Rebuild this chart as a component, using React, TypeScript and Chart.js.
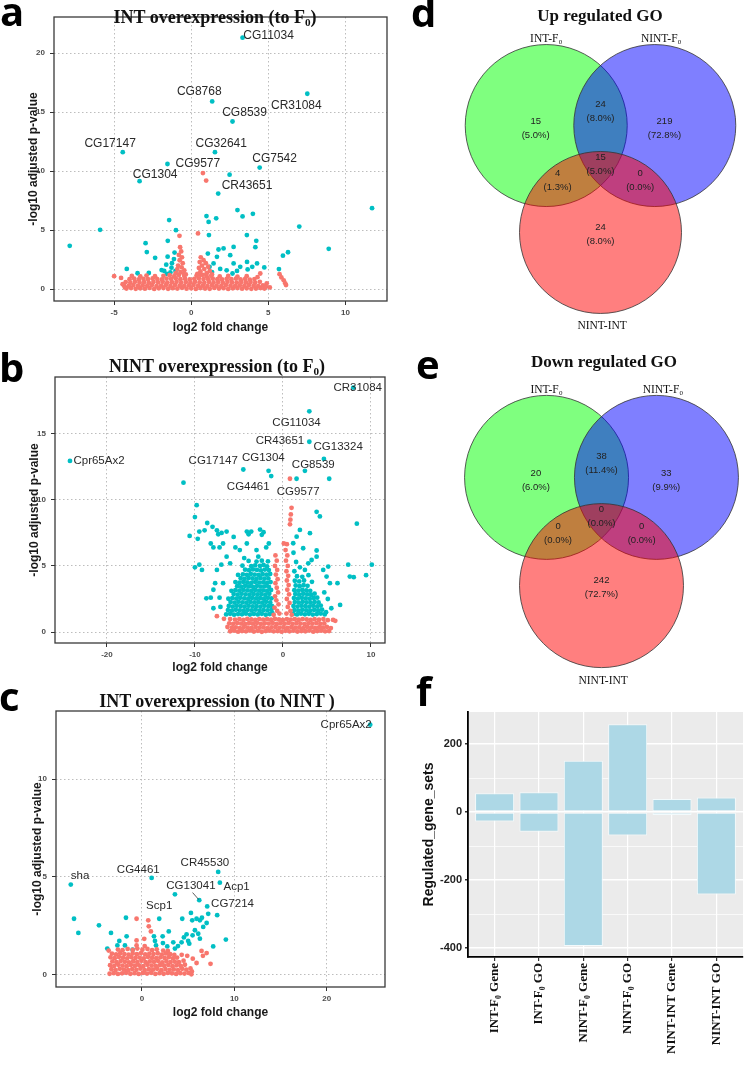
import React, { useEffect, useRef } from "react";
import { Chart, registerables } from "chart.js";

Chart.register(...registerables);

const SANS = '"Liberation Sans", Arial, sans-serif';
const SERIF = '"Liberation Serif", "Times New Roman", serif';
const RED = "#F8766D";
const CYAN = "#00BFC4";

// ---------------- Panel a : INT overexpression (to F0) ----------------
const aXTicks = [-5, 0, 5, 10];
const aYTicks = [0, 5, 10, 15, 20];
const aCyan = [
  3.33,21.3, 1.36,15.9, 7.53,16.55, 2.68,14.2, -4.44,11.6, 1.54,11.6, -1.54,10.6, 4.44,10.3, -3.35,9.15,
  2.49,9.7, 1.75,8.1, 11.73,6.86, 7.01,5.3, 8.92,3.42, -7.88,3.67, -5.91,5.03, -1.43,5.85, -0.99,5.0,
  0.99,6.19, 1.13,5.7, 1.62,6.0, 3.0,6.7, 3.33,6.16, 4.0,6.38, 1.15,4.58, 3.61,4.58, 4.22,4.1, 4.16,3.56,
  -1.52,4.1, -2.96,3.9, -2.88,3.14, -2.34,2.66, -1.08,3.1, -1.53,2.75, -1.12,2.55, -1.25,2.2, -1.62,2.08,
  -1.28,1.82, -1.75,1.55, -1.35,1.42, -1.58,1.3, -1.02,1.55, -1.92,1.62, -4.18,1.72, -2.75,1.37, -3.48,1.35,
  1.77,3.36, 2.1,3.45, 2.53,2.88, 2.75,3.58, 1.67,2.74, 1.45,2.18, 1.19,1.89, 1.88,1.72, 2.75,2.18, 2.97,1.55,
  3.18,1.89, 3.62,2.31, 3.66,1.67, 3.96,1.89, 4.27,2.18, 4.74,1.84, 1.08,3.02, 2.68,1.33, 5.69,1.7, 5.95,2.84,
  6.28,3.13, 1.35,1.45, 2.3,1.6
];
const aRed = [
  -4.2,0.05, -3.9,0.1, -3.6,0.03, -3.3,0.08, -3.0,0.04, -2.7,0.11, -2.4,0.02, -2.1,0.07, -1.8,0.1, -1.5,0.03,
  -1.2,0.09, -0.9,0.05, -0.6,0.12, -0.3,0.04, 0.0,0.08, 0.3,0.02, 0.6,0.1, 0.9,0.06, 1.2,0.03, 1.5,0.11,
  1.8,0.05, 2.1,0.09, 2.4,0.02, 2.7,0.07, 3.0,0.1, 3.3,0.04, 3.6,0.08, 3.9,0.03, 4.2,0.06, 4.5,0.1, 4.75,0.05,
  -4.35,0.32, -4.05,0.28, -3.75,0.35, -3.45,0.27, -3.15,0.33, -2.85,0.3, -2.55,0.36, -2.25,0.26, -1.95,0.31,
  -1.65,0.34, -1.35,0.28, -1.05,0.35, -0.75,0.3, -0.45,0.27, -0.15,0.33, 0.15,0.36, 0.45,0.29, 0.75,0.31,
  1.05,0.26, 1.35,0.34, 1.65,0.3, 1.95,0.27, 2.25,0.35, 2.55,0.31, 2.85,0.28, 3.15,0.33, 3.45,0.29, 3.75,0.36,
  4.05,0.3, 4.35,0.26, 4.65,0.33,
  -4.25,0.6, -3.95,0.55, -3.65,0.62, -3.35,0.57, -3.05,0.6, -2.75,0.54, -2.45,0.61, -2.15,0.58, -1.85,0.63,
  -1.55,0.56, -1.25,0.59, -0.95,0.62, -0.65,0.55, -0.35,0.6, -0.05,0.57, 0.25,0.63, 0.55,0.58, 0.85,0.54,
  1.15,0.61, 1.45,0.57, 1.75,0.6, 2.05,0.55, 2.35,0.62, 2.65,0.58, 2.95,0.56, 3.25,0.61, 3.55,0.57, 3.85,0.6,
  4.15,0.55, 4.45,0.62,
  -4.0,0.85, -3.7,0.9, -3.4,0.82, -3.1,0.88, -2.8,0.84, -2.5,0.91, -2.2,0.86, -1.9,0.83, -1.6,0.9, -1.3,0.87,
  -1.0,0.92, -0.7,0.85, -0.4,0.89, -0.1,0.83, 0.2,0.88, 0.5,0.92, 0.8,0.86, 1.1,0.84, 1.4,0.9, 1.7,0.85,
  2.0,0.82, 2.3,0.88, 2.6,0.84, 2.9,0.9, 3.2,0.83, 3.5,0.87, 3.8,0.81, 4.1,0.86,
  -4.55,0.95, -3.85,1.12, -3.3,1.08, -2.9,1.15, -2.35,1.1, -1.8,1.13, -1.4,1.18, -1.1,1.1, -0.8,1.2, -0.45,1.12,
  0.35,1.15, 0.6,1.22, 1.0,1.1, 1.3,1.14, 1.85,1.08, 2.4,1.12, 3.0,1.06, 3.6,1.1, 4.3,1.02,
  -5.0,1.1, -4.45,0.42, -4.3,0.15,
  -0.72,3.55, -0.65,3.2, -0.8,2.9, -0.6,2.7, -0.75,2.45, -0.55,2.2, -0.85,2.0, -0.62,1.85, -0.45,1.6, -0.9,1.7,
  -0.7,1.45, -0.5,1.32, -1.0,1.35, -0.35,1.25, -0.76,4.52,
  0.62,2.7, 0.8,2.45, 0.55,2.3, 0.95,2.2, 0.7,2.0, 1.1,1.9, 0.5,1.8, 0.85,1.7, 1.2,1.55, 0.6,1.5, 1.0,1.35,
  0.4,1.3, 1.35,1.25, 0.75,1.22, 0.44,4.72, 0.76,9.83, 0.97,9.2,
  4.48,1.33, 4.9,0.5, 4.85,0.2, 5.73,1.27, 5.85,1.0, 6.0,0.75, 6.1,0.5, 6.15,0.35, 5.1,0.15
];
const aLabels = ["CG11034", "CG8768", "CR31084", "CG8539", "CG17147", "CG32641", "CG9577", "CG7542", "CG1304", "CR43651"];
const aLabelX = [5.02, 0.52, 6.82, 3.46, -5.26, 1.95, 0.43, 5.41, -2.34, 3.62];
const aLabelY = [21.47, 16.7, 15.5, 14.97, 12.35, 12.35, 10.6, 11.07, 9.66, 8.75];

// ---------------- Panel b : NINT overexpression (to F0) ----------------
const bXTicks = [-20, -10, 0, 10];
const bYTicks = [0, 5, 10, 15];
const bCyan = [
  -24.2,12.95, 8.0,18.5, 3.0,16.7, 3.0,14.4, 4.66,13.1, 2.5,12.2, 5.26,11.6, 1.55,11.6, -4.5,12.3, -1.63,12.2,
  -1.33,11.8, -11.3,11.3, -9.8,9.6, -10.0,8.7, 3.83,9.1, 4.2,8.75, 8.4,8.2, 10.1,5.1, 7.42,5.1, 7.6,4.2,
  8.05,4.15, 9.45,4.3, 6.5,2.05, -10.6,7.27,
  -9.5,7.6, -9.68,7.05, -10.0,4.9, -9.5,5.1, -9.2,4.7, -8.7,2.55, -8.2,2.6, -8.6,8.25, -8.0,7.96, -8.9,7.7,
  -7.5,7.7, -7.35,7.4, -6.97,7.5, -6.4,7.6, -6.8,6.7, -7.2,6.4, -7.9,6.4, -8.2,6.7, -4.1,7.6, -3.9,7.4,
  -3.6,7.6, -2.6,7.75, -2.2,7.55, -2.4,7.36, -4.1,6.7, -5.6,7.2, -5.4,6.4, -4.9,6.2, -3.0,6.2, -1.9,6.4,
  -1.6,6.7, -6.4,5.7, -6.0,5.2, -7.0,5.1, -7.5,4.7, -7.7,3.7, -7.9,3.2, -6.8,3.7, -7.2,2.6, -7.1,1.9, -7.9,1.8,
  -6.45,1.33, -6.0,1.38, -5.55,1.31, -5.1,1.36, -4.65,1.34, -4.2,1.39, -3.75,1.32, -3.3,1.37, -2.85,1.33,
  -2.4,1.38, -1.95,1.31, -1.5,1.36, -1.2,1.42,
  -6.25,1.66, -5.8,1.62, -5.35,1.68, -4.9,1.64, -4.45,1.61, -4.0,1.67, -3.55,1.63, -3.1,1.69, -2.65,1.62,
  -2.2,1.66, -1.75,1.64, -1.3,1.68,
  -6.15,1.97, -5.7,1.93, -5.25,1.99, -4.8,1.95, -4.35,1.92, -3.9,1.98, -3.45,1.94, -3.0,1.96, -2.55,1.92,
  -2.1,1.99, -1.65,1.95, -1.25,1.97,
  -5.95,2.27, -5.5,2.23, -5.05,2.29, -4.6,2.25, -4.15,2.22, -3.7,2.28, -3.25,2.24, -2.8,2.26, -2.35,2.22,
  -1.9,2.29, -1.45,2.25,
  -6.2,2.52, -5.75,2.57, -5.3,2.53, -4.85,2.59, -4.4,2.55, -3.95,2.52, -3.5,2.58, -3.05,2.54, -2.6,2.56,
  -2.15,2.52, -1.7,2.59, -1.3,2.55,
  -5.6,2.87, -5.15,2.83, -4.7,2.89, -4.25,2.85, -3.8,2.82, -3.35,2.88, -2.9,2.84, -2.45,2.86, -2.0,2.82, -1.55,2.89,
  -5.85,3.12, -5.4,3.17, -4.95,3.13, -4.5,3.19, -4.05,3.15, -3.6,3.12, -3.15,3.18, -2.7,3.14, -2.25,3.16,
  -1.8,3.12, -1.35,3.18,
  -5.2,3.47, -4.75,3.43, -4.3,3.49, -3.85,3.45, -3.4,3.42, -2.95,3.48, -2.5,3.44, -2.05,3.46, -1.6,3.42,
  -5.4,3.78, -4.95,3.73, -4.5,3.79, -4.05,3.75, -3.6,3.72, -3.15,3.78, -2.7,3.74, -2.25,3.76, -1.8,3.72, -1.4,3.78,
  -4.8,4.07, -4.35,4.03, -3.9,4.09, -3.45,4.05, -3.0,4.02, -2.55,4.08, -2.1,4.04, -1.65,4.06,
  -5.1,4.32, -4.55,4.37, -4.1,4.33, -3.65,4.39, -3.2,4.35, -2.75,4.32, -2.3,4.38, -1.85,4.34, -1.45,4.4,
  -4.3,4.72, -3.85,4.68, -3.4,4.74, -2.95,4.7, -2.5,4.66, -2.05,4.73, -1.6,4.69,
  -4.6,5.02, -3.6,4.98, -3.15,5.05, -2.6,5.0, -2.2,5.08, -1.8,4.97,
  -3.9,5.38, -3.0,5.33, -2.4,5.4, -1.7,5.35, -4.4,5.6, -2.8,5.7,
  1.15,1.37, 1.6,1.33, 2.05,1.39, 2.5,1.34, 2.95,1.38, 3.4,1.32, 3.85,1.36, 4.3,1.4, 4.75,1.33,
  1.3,1.66, 1.75,1.62, 2.2,1.68, 2.65,1.64, 3.1,1.61, 3.55,1.67, 4.0,1.63, 4.45,1.69,
  1.2,1.97, 1.65,1.93, 2.1,1.99, 2.55,1.95, 3.0,1.92, 3.45,1.98, 3.9,1.94, 4.3,2.0,
  1.35,2.27, 1.8,2.23, 2.25,2.29, 2.7,2.25, 3.15,2.22, 3.6,2.28, 4.05,2.24,
  1.25,2.57, 1.7,2.53, 2.15,2.59, 2.6,2.55, 3.05,2.52, 3.5,2.58, 3.9,2.6,
  1.4,2.87, 1.85,2.83, 2.3,2.89, 2.75,2.85, 3.2,2.82, 3.6,2.9,
  1.3,3.17, 1.75,3.13, 2.2,3.19, 2.65,3.15, 3.1,3.12,
  1.45,3.52, 1.9,3.47, 2.35,3.54, 2.8,3.5,
  1.35,3.88, 1.85,3.83, 2.4,3.9, 3.3,3.8,
  1.6,4.22, 2.2,4.18, 2.9,4.3, 1.3,4.6, 2.5,4.7,
  1.17,6.72, 1.93,7.73, 1.56,7.22, 3.07,7.48, 2.3,6.34, 3.83,6.17, 3.26,5.45, 3.83,5.7, 2.88,5.2, 4.58,4.7,
  5.15,4.95, 4.96,4.2, 5.34,3.7, 6.2,3.7, 1.93,4.9, 1.2,6.0, 1.5,5.3, 4.7,3.0, 5.1,2.5, 5.5,1.8, 4.9,1.5
];
const bRed = [
  -6.0,0.06, -5.55,0.1, -5.1,0.03, -4.65,0.08, -4.2,0.05, -3.75,0.11, -3.3,0.04, -2.85,0.09, -2.4,0.02,
  -1.95,0.07, -1.5,0.1, -1.05,0.05, -0.6,0.08, -0.15,0.03, 0.3,0.09, 0.75,0.05, 1.2,0.1, 1.65,0.04, 2.1,0.08,
  2.55,0.06, 3.0,0.11, 3.45,0.03, 3.9,0.07, 4.35,0.1, 4.8,0.05, 5.25,0.08,
  -6.3,0.38, -5.8,0.33, -5.35,0.36, -4.9,0.3, -4.45,0.37, -4.0,0.34, -3.55,0.31, -3.1,0.38, -2.65,0.33,
  -2.2,0.36, -1.75,0.3, -1.3,0.35, -0.85,0.38, -0.4,0.32, 0.05,0.36, 0.5,0.31, 0.95,0.37, 1.4,0.33, 1.85,0.35,
  2.3,0.3, 2.75,0.38, 3.2,0.34, 3.65,0.31, 4.1,0.36, 4.55,0.33, 5.0,0.38, 5.45,0.3,
  -6.1,0.66, -5.65,0.62, -5.2,0.68, -4.75,0.64, -4.3,0.61, -3.85,0.67, -3.4,0.63, -2.95,0.69, -2.5,0.62,
  -2.05,0.66, -1.6,0.64, -1.15,0.68, -0.7,0.61, -0.25,0.66, 0.2,0.63, 0.65,0.69, 1.1,0.62, 1.55,0.67, 2.0,0.64,
  2.45,0.6, 2.9,0.66, 3.35,0.63, 3.8,0.68, 4.25,0.62, 4.7,0.65,
  -7.5,1.2, -6.7,1.0, -6.0,0.98, -5.45,0.94, -4.95,0.97, -4.5,0.92, -4.05,0.99, -3.6,0.95, -3.15,0.92,
  -2.7,0.98, -2.25,0.94, -1.8,0.97, -1.35,0.93, -0.9,0.99, -0.45,0.95, 0.0,0.92, 0.45,0.98, 0.9,0.94,
  1.35,0.97, 1.8,0.93, 2.25,0.98, 2.7,0.95, 3.15,0.92, 3.6,0.97, 4.1,0.93, 4.6,0.98, 5.1,0.9, 5.7,0.92, 5.95,0.85,
  -0.85,5.8, -0.7,5.4, -0.9,5.0, -0.65,4.7, -0.8,4.35, -0.6,4.0, -0.85,3.7, -0.7,3.35, -0.55,3.0, -0.9,2.7,
  -0.75,2.4, -0.5,2.1, -0.95,1.85, -0.65,1.6, -0.4,1.4, -1.05,1.3,
  0.1,6.7, 0.45,6.65, 0.3,6.2, 0.5,5.8, 0.35,5.4, 0.55,5.0, 0.4,4.6, 0.6,4.25, 0.45,3.9, 0.65,3.55, 0.5,3.2,
  0.7,2.85, 0.45,2.5, 0.75,2.2, 0.55,1.9, 0.85,1.6, 0.4,1.4, 1.0,1.3,
  0.8,11.6, 0.98,9.4, 0.9,8.9, 0.85,8.5, 0.8,8.15
];
const bLabels = ["Cpr65Ax2", "CR31084", "CG11034", "CR43651", "CG13324", "CG17147", "CG1304", "CG8539", "CG4461", "CG9577"];
const bLabelX = [-20.9, 8.5, 1.55, -0.34, 6.28, -7.92, -2.23, 3.45, -3.94, 1.74];
const bLabelY = [12.95, 18.5, 15.8, 14.47, 14.04, 12.98, 13.16, 12.65, 10.96, 10.63];

// ---------------- Panel c : INT overexpression (to NINT) ----------------
const cXTicks = [0, 10, 20];
const cYTicks = [0, 5, 10];
const cCyan = [
  24.7,12.8, -7.7,4.6, 1.05,4.94, 8.25,5.25, 8.43,4.7, 3.57,4.1, 6.2,3.8, 7.06,3.48, 8.14,3.03,
  -7.35,2.85, -6.88,2.12, -4.65,2.51, -3.35,2.12, -1.73,2.9, 1.87,2.85, 4.36,2.85, 5.3,3.15,
  -3.75,1.32, -2.45,1.71, -1.66,1.95, -2.66,1.48, -1.84,1.48, -1.01,1.26,
  1.3,1.95, 2.24,1.95, 1.41,1.71, 1.52,1.48, 2.27,1.6, 2.74,1.43, 3.39,1.64, 3.57,1.32, 4.29,1.64, 4.54,1.89,
  4.83,2.05, 5.0,1.71, 5.44,2.77, 5.91,2.85, 6.27,2.77, 6.49,2.9, 5.73,2.26, 6.09,2.08, 6.63,2.43, 7.0,2.63,
  5.48,2.0, 5.12,1.57, 6.27,1.83, 7.17,3.1, 7.71,1.43, 9.08,1.78, 3.9,1.45, 2.9,2.2
];
const cRed = [
  -3.5,0.03, -3.05,0.06, -2.6,0.02, -2.15,0.05, -1.7,0.08, -1.25,0.03, -0.8,0.06, -0.35,0.02, 0.1,0.07,
  0.55,0.04, 1.0,0.08, 1.45,0.02, 1.9,0.06, 2.35,0.03, 2.8,0.07, 3.25,0.05, 3.7,0.02, 4.15,0.06, 4.6,0.04,
  5.05,0.07, 5.35,0.0,
  -3.3,0.26, -2.85,0.22, -2.4,0.28, -1.95,0.24, -1.5,0.21, -1.05,0.27, -0.6,0.23, -0.15,0.29, 0.3,0.22,
  0.75,0.26, 1.2,0.24, 1.65,0.28, 2.1,0.21, 2.55,0.27, 3.0,0.23, 3.45,0.25, 3.9,0.22, 4.35,0.28, 4.8,0.24, 5.25,0.3,
  -3.45,0.47, -3.0,0.43, -2.55,0.49, -2.1,0.45, -1.65,0.42, -1.2,0.48, -0.75,0.44, -0.3,0.46, 0.15,0.42,
  0.6,0.49, 1.05,0.45, 1.5,0.43, 1.95,0.47, 2.4,0.44, 2.85,0.48, 3.3,0.42, 3.75,0.46, 4.2,0.43, 4.65,0.49,
  -3.2,0.66, -2.75,0.62, -2.3,0.68, -1.85,0.64, -1.4,0.61, -0.95,0.67, -0.5,0.63, -0.05,0.69, 0.4,0.62,
  0.85,0.66, 1.3,0.64, 1.75,0.68, 2.2,0.61, 2.65,0.67, 3.1,0.63, 3.55,0.65, 4.0,0.62, 4.5,0.7,
  -3.4,0.87, -2.95,0.83, -2.5,0.89, -2.05,0.85, -1.6,0.82, -1.15,0.88, -0.7,0.84, -0.25,0.86, 0.2,0.82,
  0.65,0.89, 1.1,0.85, 1.55,0.83, 2.0,0.87, 2.45,0.84, 2.9,0.88, 3.35,0.82, 3.8,0.86,
  -3.25,1.06, -2.8,1.02, -2.35,1.08, -1.9,1.04, -1.45,1.01, -1.0,1.07, -0.55,1.03, -0.1,1.09, 0.35,1.02,
  0.8,1.06, 1.25,1.04, 1.7,1.08, 2.15,1.01, 2.6,1.07, 3.05,1.03, 3.5,1.0,
  -3.6,1.22, -2.6,1.27, -2.1,1.24, -1.55,1.3, -1.0,1.25, -0.5,1.32, 0.05,1.26, 0.6,1.3, 1.1,1.24, 1.6,1.28,
  2.3,1.22, 2.8,1.2,
  -0.58,2.85, 0.68,2.77, 0.74,2.46, 0.97,2.2, -0.58,1.74, 0.25,1.82, -0.58,1.48, 0.3,1.45, 6.45,1.2, 7.0,1.09,
  7.42,0.54, 5.91,0.58, 5.4,0.15, 4.9,0.95, 5.5,0.8, 6.6,0.95, 4.3,1.0
];
const cLabels = ["Cpr65Ax2", "sha", "CG4461", "CR45530", "CG13041", "Acp1", "Scp1", "CG7214"];
const cLabelX = [22.1, -6.7, -0.4, 6.81, 5.3, 10.24, 1.87, 9.8];
const cLabelY = [12.8, 5.03, 5.37, 5.71, 4.53, 4.51, 3.49, 3.59];
const cLeader = [5.48, 4.19, 6.15, 3.83];

// ---------------- Panels d / e : Venn diagrams ----------------
const vennSets = ["INT-F₀", "NINT-F₀", "NINT-INT"];
const vennFill = ["rgba(0,255,0,0.5)", "rgba(0,0,255,0.5)", "rgba(255,0,0,0.5)"];
const vennCX = [-0.67, 0.67, 0];
const vennCY = [0.66, 0.66, -0.66];
const vennR = 1;
const vennSetLabelX = [-0.67, 0.75, 0.02];
const vennSetLabelY = [1.73, 1.73, -1.82];
const vennRegionX = [-0.8, 0, 0.79, 0, -0.53, 0.49, 0];
const vennRegionY = [0.62, 0.83, 0.62, 0.18, -0.02, -0.02, -0.68];
const dCounts = ["15", "24", "219", "15", "4", "0", "24"];
const dPercents = ["(5.0%)", "(8.0%)", "(72.8%)", "(5.0%)", "(1.3%)", "(0.0%)", "(8.0%)"];
const eCounts = ["20", "38", "33", "0", "0", "0", "242"];
const ePercents = ["(6.0%)", "(11.4%)", "(9.9%)", "(0.0%)", "(0.0%)", "(0.0%)", "(72.7%)"];

// ---------------- Panel f : bar chart ----------------
const fCategories = ["INT-F₀ Gene", "INT-F₀ GO", "NINT-F₀ Gene", "NINT-F₀ GO", "NINT-INT Gene", "NINT-INT GO"];
const fUp = [55, 58, 151, 258, 38, 43];
const fDown = [-28, -58, -394, -69, -9, -242];
const fYTicks = [-400, -300, -200, -100, 0, 100, 200];
const fYLabels = ["-400", "", "-200", "", "0", "", "200"];

function toPts(flat: number[]) {
  const out: { x: number; y: number }[] = [];
  for (let i = 0; i < flat.length; i += 2) out.push({ x: flat[i], y: flat[i + 1] });
  return out;
}

type VProps = {
  left: number; top: number; width: number; height: number;
  padTop: number; padRight: number; yAxisW: number; xAxisH: number; yTitlePad: number;
  xMin: number; xMax: number; yMin: number; yMax: number;
  xTicks: number[]; yTicks: number[];
  cyan: number[]; red: number[];
  labels: string[]; labelX: number[]; labelY: number[]; labelSize: number;
  leader?: number[];
};

function Volcano(p: VProps) {
  const ref = useRef<HTMLCanvasElement>(null);
  useEffect(() => {
    const deco = {
      id: "deco",
      afterDatasetsDraw(chart: any) {
        const { ctx, chartArea: a, scales } = chart;
        const xs = scales.x, ys = scales.y;
        ctx.save();
        ctx.strokeStyle = "#3a3a3a";
        ctx.lineWidth = 1.3;
        ctx.strokeRect(a.left, a.top, a.right - a.left, a.bottom - a.top);
        ctx.fillStyle = "#2a2a2a";
        ctx.font = `${p.labelSize}px ${SANS}`;
        ctx.textAlign = "center";
        ctx.textBaseline = "middle";
        p.labels.forEach((t, i) => ctx.fillText(t, xs.getPixelForValue(p.labelX[i]), ys.getPixelForValue(p.labelY[i])));
        if (p.leader) {
          ctx.strokeStyle = "#333";
          ctx.lineWidth = 0.8;
          ctx.beginPath();
          ctx.moveTo(xs.getPixelForValue(p.leader[0]), ys.getPixelForValue(p.leader[1]));
          ctx.lineTo(xs.getPixelForValue(p.leader[2]), ys.getPixelForValue(p.leader[3]));
          ctx.stroke();
        }
        ctx.restore();
      },
    };
    const tickFont = { family: SANS, size: 8, weight: "bold" as const };
    const titleFont = { family: SANS, size: 12, weight: "bold" as const };
    const chart = new Chart(ref.current!, {
      type: "scatter",
      data: {
        datasets: [
          { data: toPts(p.cyan), backgroundColor: CYAN, pointRadius: 2.4, pointBorderWidth: 0, borderWidth: 0, order: 2 },
          { data: toPts(p.red), backgroundColor: RED, pointRadius: 2.4, pointBorderWidth: 0, borderWidth: 0, order: 1 },
        ],
      },
      options: {
        animation: false,
        responsive: false,
        events: [],
        layout: { padding: { top: p.padTop, right: p.padRight, left: 0, bottom: 0 } },
        plugins: { legend: { display: false }, tooltip: { enabled: false } },
        scales: {
          x: {
            type: "linear", min: p.xMin, max: p.xMax,
            afterBuildTicks: (s: any) => { s.ticks = p.xTicks.map((v) => ({ value: v })); },
            afterFit: (s: any) => { s.height = p.xAxisH; },
            ticks: { font: tickFont, color: "#4d4d4d", padding: 3, maxRotation: 0, autoSkip: false },
            grid: { color: "#bdbdbd", lineWidth: 1, tickLength: 4, tickColor: "#333" },
            border: { display: false, dash: [1.5, 2.5] },
            title: { display: true, text: "log2 fold change", font: titleFont, color: "#1a1a1a", padding: { top: 0, bottom: 10 } },
          },
          y: {
            type: "linear", min: p.yMin, max: p.yMax,
            afterBuildTicks: (s: any) => { s.ticks = p.yTicks.map((v) => ({ value: v })); },
            afterFit: (s: any) => { s.width = p.yAxisW; },
            ticks: { font: tickFont, color: "#4d4d4d", padding: 5, autoSkip: false },
            grid: { color: "#bdbdbd", lineWidth: 1, tickLength: 4, tickColor: "#333" },
            border: { display: false, dash: [1.5, 2.5] },
            title: { display: true, text: "-log10 adjusted p-value", font: titleFont, color: "#1a1a1a", padding: { top: p.yTitlePad, bottom: 0 } },
          },
        },
      } as any,
      plugins: [deco],
    });
    return () => chart.destroy();
  }, []);
  return (
    <canvas ref={ref} width={p.width} height={p.height}
      style={{ position: "absolute", left: p.left, top: p.top, width: p.width, height: p.height }} />
  );
}

type VennProps = { left: number; top: number; width: number; height: number; ox: number; oy: number; ppu: number; counts: string[]; pcts: string[] };

function Venn(p: VennProps) {
  const ref = useRef<HTMLCanvasElement>(null);
  useEffect(() => {
    const radiusPx = (c: any) => {
      const s = c.chart.scales.x;
      return Math.abs(s.getPixelForValue(vennR) - s.getPixelForValue(0));
    };
    const text = {
      id: "vennText",
      afterDatasetsDraw(chart: any) {
        const { ctx, scales } = chart;
        const xs = scales.x, ys = scales.y;
        ctx.save();
        ctx.textAlign = "center";
        ctx.textBaseline = "middle";
        ctx.fillStyle = "#222";
        ctx.font = `9.5px ${SANS}`;
        p.counts.forEach((c, i) => {
          const px = xs.getPixelForValue(vennRegionX[i]);
          const py = ys.getPixelForValue(vennRegionY[i]);
          ctx.fillText(c, px, py - 7);
          ctx.fillText(p.pcts[i], px, py + 7);
        });
        ctx.font = `11.5px ${SERIF}`;
        ctx.fillStyle = "#111";
        vennSets.forEach((s, i) => ctx.fillText(s, xs.getPixelForValue(vennSetLabelX[i]), ys.getPixelForValue(vennSetLabelY[i])));
        ctx.restore();
      },
    };
    const dx = p.ox - p.left, dy = p.oy - p.top;
    const chart = new Chart(ref.current!, {
      type: "scatter",
      data: {
        datasets: vennFill.map((col, i) => ({
          data: [{ x: vennCX[i], y: vennCY[i] }],
          backgroundColor: col,
          borderColor: "#333",
          borderWidth: 0.8,
          pointBorderWidth: 0.8,
          pointRadius: radiusPx,
          order: 3 - i,
          clip: false,
        })),
      },
      options: {
        animation: false, responsive: false, events: [],
        layout: { padding: 0 },
        plugins: { legend: { display: false }, tooltip: { enabled: false } },
        scales: {
          x: { type: "linear", display: false, min: -dx / p.ppu, max: (p.width - dx) / p.ppu },
          y: { type: "linear", display: false, min: -(p.height - dy) / p.ppu, max: dy / p.ppu },
        },
      } as any,
      plugins: [text],
    });
    return () => chart.destroy();
  }, []);
  return (
    <canvas ref={ref} width={p.width} height={p.height}
      style={{ position: "absolute", left: p.left, top: p.top, width: p.width, height: p.height }} />
  );
}

function Bars() {
  const ref = useRef<HTMLCanvasElement>(null);
  useEffect(() => {
    const bg = {
      id: "panelBg",
      beforeDraw(chart: any) {
        const { ctx, chartArea: a } = chart;
        ctx.save();
        ctx.fillStyle = "#EBEBEB";
        ctx.fillRect(a.left, a.top, a.right - a.left, a.bottom - a.top);
        ctx.restore();
      },
    };
    const barStyle = { backgroundColor: "#ADD8E6", borderColor: "#f2fafc", borderWidth: 1, borderSkipped: false, barPercentage: 0.88, categoryPercentage: 1 };
    const chart = new Chart(ref.current!, {
      type: "bar",
      data: {
        datasets: [
          { data: fUp.map((v, i) => ({ x: i + 1, y: v })), ...barStyle },
          { data: fDown.map((v, i) => ({ x: i + 1, y: v })), ...barStyle },
        ],
      },
      options: {
        animation: false, responsive: false, events: [],
        layout: { padding: { top: 22, right: 2, left: 0, bottom: 0 } },
        plugins: { legend: { display: false }, tooltip: { enabled: false } },
        scales: {
          x: {
            type: "linear", min: 0.4, max: 6.6, stacked: true, offset: false,
            afterBuildTicks: (s: any) => { s.ticks = fCategories.map((_, i) => ({ value: i + 1 })); },
            afterFit: (s: any) => { s.height = 109; },
            ticks: {
              autoSkip: false, minRotation: 90, maxRotation: 90, padding: 2, color: "#111",
              font: { family: SERIF, size: 13, weight: "bold" },
              callback: (v: any) => fCategories[Math.round(Number(v)) - 1],
            },
            grid: { offset: false, color: "#ffffff", lineWidth: 1.2, tickLength: 4, tickColor: "#333" },
            border: { display: true, color: "#000", width: 1.8 },
          },
          y: {
            type: "linear", min: -426, max: 294, stacked: true,
            afterBuildTicks: (s: any) => { s.ticks = fYTicks.map((v) => ({ value: v })); },
            afterFit: (s: any) => { s.width = 88; },
            ticks: {
              padding: 3, color: "#222", autoSkip: false,
              font: { family: SANS, size: 11, weight: "bold" },
              callback: (_v: any, i: number) => fYLabels[i],
            },
            grid: {
              color: "#ffffff",
              lineWidth: (c: any) => (fYLabels[c.index] ? 1.4 : 0.7),
              tickLength: 3,
              tickColor: (c: any) => (fYLabels[c.index] ? "#333" : "rgba(0,0,0,0)"),
            },
            border: { display: true, color: "#000", width: 1.8 },
            title: { display: true, text: "Regulated_gene_sets", color: "#111", font: { family: SANS, size: 14, weight: "bold" }, padding: { top: 41, bottom: 0 } },
          },
        },
      } as any,
      plugins: [bg],
    });
    return () => chart.destroy();
  }, []);
  return (
    <canvas ref={ref} width={365} height={376}
      style={{ position: "absolute", left: 380, top: 690, width: 365, height: 376 }} />
  );
}

function Title({ cx, base, size, children }: { cx: number; base: number; size: number; children: any }) {
  return (
    <div style={{
      position: "absolute", left: cx, top: base - 0.8375 * size, transform: "translateX(-50%)",
      whiteSpace: "nowrap", fontFamily: SERIF, fontWeight: "bold", fontSize: size, lineHeight: 1, color: "#111",
    }}>{children}</div>
  );
}

function Letter({ x, base, ch }: { x: number; base: number; ch: string }) {
  const size = 40;
  return (
    <div style={{
      position: "absolute", left: x - 2, top: base - 0.888 * size, fontFamily: '"Open Sans", sans-serif',
      fontWeight: 700, fontSize: size, lineHeight: 1, color: "#000",
    }}>{ch}</div>
  );
}

const Sub = ({ t }: { t: string }) => (
  <sub style={{ fontSize: "0.62em", verticalAlign: "-0.28em", lineHeight: 0 }}>{t}</sub>
);

export default function App() {
  return (
    <div style={{ position: "absolute", left: 0, top: 0, width: 745, height: 1066, background: "#fff", overflow: "hidden" }}>
      <Volcano left={0} top={0} width={392} height={345} padTop={17} padRight={5} yAxisW={54} xAxisH={44} yTitlePad={26.5}
        xMin={-8.9} xMax={12.7} yMin={-1.0} yMax={23.05} xTicks={aXTicks} yTicks={aYTicks}
        cyan={aCyan} red={aRed} labels={aLabels} labelX={aLabelX} labelY={aLabelY} labelSize={12} />
      <Volcano left={0} top={345} width={392} height={340} padTop={32} padRight={7} yAxisW={55} xAxisH={42} yTitlePad={27.5}
        xMin={-25.9} xMax={11.6} yMin={-0.83} yMax={19.3} xTicks={bXTicks} yTicks={bYTicks}
        cyan={bCyan} red={bRed} labels={bLabels} labelX={bLabelX} labelY={bLabelY} labelSize={11.5} />
      <Volcano left={0} top={690} width={392} height={340} padTop={21} padRight={7} yAxisW={56} xAxisH={43} yTitlePad={30}
        xMin={-9.3} xMax={26.3} yMin={-0.65} yMax={13.5} xTicks={cXTicks} yTicks={cYTicks}
        cyan={cCyan} red={cRed} labels={cLabels} labelX={cLabelX} labelY={cLabelY} labelSize={11.5} leader={cLeader} />
      <Venn left={440} top={24} width={305} height={318} ox={600.5} oy={179} ppu={81} counts={dCounts} pcts={dPercents} />
      <Venn left={440} top={372} width={305} height={320} ox={601.5} oy={531.5} ppu={82} counts={eCounts} pcts={ePercents} />
      <Bars />

      <Title cx={215} base={23} size={18}>INT overexpression (to F<Sub t="0" />)</Title>
      <Title cx={217} base={372} size={18}>NINT overexpression (to F<Sub t="0" />)</Title>
      <Title cx={217} base={707} size={18}>INT overexpression (to NINT )</Title>
      <Title cx={600} base={21} size={17}>Up regulated GO</Title>
      <Title cx={604} base={367} size={17}>Down regulated GO</Title>

      <Letter x={2} base={27} ch="a" />
      <Letter x={1} base={383} ch="b" />
      <Letter x={1} base={712} ch="c" />
      <Letter x={413} base={28} ch="d" />
      <Letter x={418} base={380} ch="e" />
      <Letter x={418} base={707} ch="f" />
    </div>
  );
}
